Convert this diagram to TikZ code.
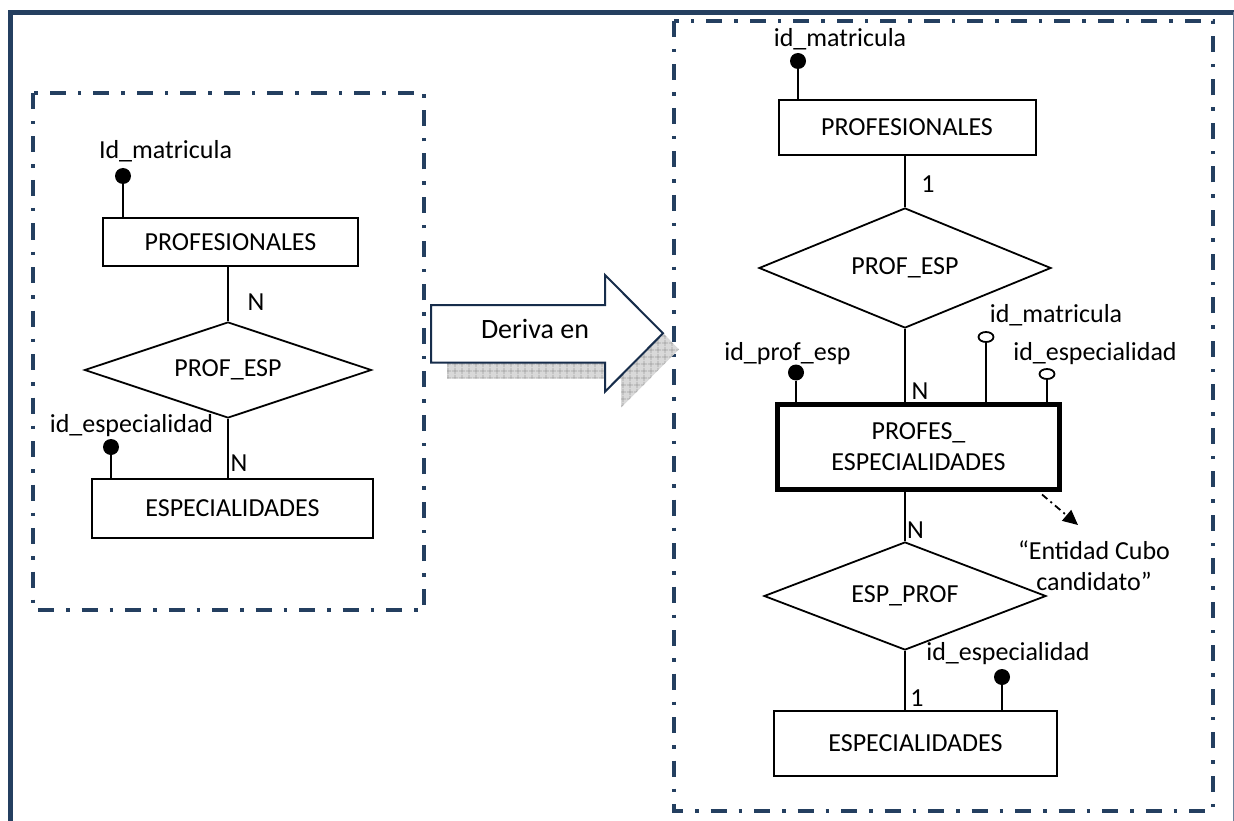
\documentclass[tikz,border=0pt]{standalone}
\usepackage{fontspec}
\setmainfont{Carlito}
\usetikzlibrary{shapes.geometric,arrows.meta,patterns.meta}

\definecolor{frameblue}{RGB}{36,63,96}
\definecolor{arrowblue}{RGB}{23,45,75}
\definecolor{edgegray}{RGB}{110,130,155}

\begin{document}
\begin{tikzpicture}[x=1pt,y=-1pt,
  every node/.style={font=\fontsize{26}{31}\selectfont, inner sep=0pt},
  entity/.style={draw, rectangle, line width=2pt},
  cubebox/.style={draw, rectangle, line width=5pt},
  rel/.style={draw, diamond, line width=1.8pt, shape aspect=3},
  link/.style={line width=2pt},
  key/.style={circle, fill=black, minimum size=16pt},
  fkey/.style={ellipse, draw, line width=1.8pt, fill=white, minimum width=15pt, minimum height=10pt},
  lbl/.style={anchor=base},
  panel/.style={draw=frameblue, line width=3.5pt, dash pattern=on 16pt off 12pt on 3.5pt off 12pt},
]
\useasboundingbox (0,0) rectangle (1234,821);

% page frame
\draw[frameblue, line width=4.5pt] (10.5,821) -- (10.5,12.5) -- (1234,12.5);
\draw[edgegray, line width=1pt] (1233,12.5) -- (1233,821);

% dash-dot panels
\draw[panel] (33,93) rectangle (424,610);
\draw[panel] (674,21) rectangle (1213,811);

% ---------- left model ----------
\node[entity, minimum width=255pt, minimum height=48pt] (lprof) at (230.5,242) {PROFESIONALES};
\node[rel, minimum width=287pt, minimum height=96pt] (lrel) at (228,370) {PROF\_ESP};
\node[entity, minimum width=281pt, minimum height=59pt] (lesp) at (232.5,508.5) {ESPECIALIDADES};
\draw[link] (lrel.north) -- (lrel.north |- lprof.south);
\draw[link] (lrel.south) -- (lrel.south |- lesp.north);
\node[lbl] (lcard1) at (256,310) {N};
\node[lbl] (lcard2) at (239,471) {N};

\node[key] (la1) at (123,176) {};
\draw[link] (la1) -- (la1 |- lprof.north);
\node[lbl] (la1t) at (165.5,159) {Id\_matricula};
\node[key] (la2) at (111,447) {};
\draw[link] (la2) -- (la2 |- lesp.north);
\node[lbl] (la2t) at (131.5,432) {id\_especialidad};

% ---------- block arrow ----------
\begin{scope}[shift={(16,16)}]
  \fill[gray!30] (431,305) -- (605,305) -- (605,275) -- (663,333.3) -- (605,391.7) -- (605,362.7) -- (431,362.7) -- cycle;
  \fill[pattern={Hatch[distance=6.5pt,angle=0,line width=0.8pt]}, pattern color=gray!75]
    (431,305) -- (605,305) -- (605,275) -- (663,333.3) -- (605,391.7) -- (605,362.7) -- (431,362.7) -- cycle;
\end{scope}
\draw[arrowblue, line width=2pt, fill=white]
  (431,305) -- (605,305) -- (605,275) -- (663,333.3) -- (605,391.7) -- (605,362.7) -- (431,362.7) -- cycle;
\node[font=\fontsize{28}{34}\selectfont, anchor=base] (deriva) at (535,338.3) {Deriva en};

% ---------- right model ----------
\node[entity, minimum width=257pt, minimum height=55pt] (rprof) at (907,127.5) {PROFESIONALES};
\node[rel, minimum width=292pt, minimum height=120pt] (rrel1) at (905,268) {PROF\_ESP};
\node[cubebox, minimum width=282pt, minimum height=85pt, align=center] (rcube) at (918.5,447) {PROFES\_\\ESPECIALIDADES};
\node[rel, minimum width=282pt, minimum height=108pt] (rrel2) at (905,596) {ESP\_PROF};
\node[entity, minimum width=283pt, minimum height=65pt] (resp) at (915.5,743.5) {ESPECIALIDADES};

\draw[link] (rrel1.north) -- (rrel1.north |- rprof.south);
\draw[link] (rrel1.south) -- (rrel1.south |- rcube.north);
\draw[link] (rrel2.north) -- (rrel2.north |- rcube.south);
\draw[link] (rrel2.south) -- (rrel2.south |- resp.north);

\node[lbl] (rcard1) at (928,193) {1};
\node[lbl] (rcard2) at (920,399) {N};
\node[lbl] (rcard3) at (915.5,538) {N};
\node[lbl] (rcard4) at (917,706.7) {1};

\node[key] (ra1) at (798,61) {};
\draw[link] (ra1) -- (ra1 |- rprof.north);
\node[lbl] (ra1t) at (840,47) {id\_matricula};

\node[key] (ra2) at (796,372.5) {};
\draw[link] (ra2) -- (ra2 |- rcube.north);
\node[lbl] (ra2t) at (787.5,360) {id\_prof\_esp};

\node[fkey] (ra3) at (986,337) {};
\draw[link] (ra3) -- (ra3 |- rcube.north);
\node[lbl] (ra3t) at (1056,322) {id\_matricula};

\node[fkey] (ra4) at (1047,374) {};
\draw[link] (ra4) -- (ra4 |- rcube.north);
\node[lbl] (ra4t) at (1095,360) {id\_especialidad};

\node[key] (ra5) at (1002,677) {};
\draw[link] (ra5) -- (ra5 |- resp.north);
\node[lbl] (ra5t) at (1008,660) {id\_especialidad};

% note on the fact entity
\node[align=center] (note) at (1094,566) {“Entidad Cubo\\candidato”};
\coordinate (notetip) at (1078,525);
\draw[line width=1.8pt, dash pattern=on 7pt off 4pt on 2pt off 4pt, -{Triangle[length=15pt,width=14pt]}]
  (rcube.south east) ++(-20,2.5) -- (notetip);

\end{tikzpicture}
\end{document}
